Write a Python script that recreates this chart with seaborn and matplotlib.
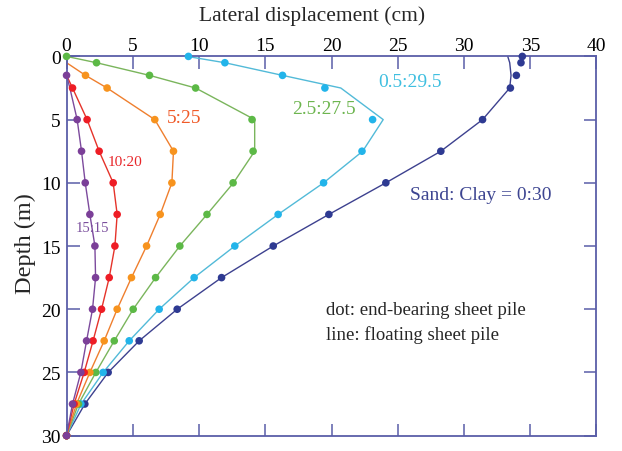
import numpy as np
import pandas as pd
import matplotlib
matplotlib.use("Agg")
import matplotlib.pyplot as plt
import seaborn as sns

nan = np.nan

# depth of the nodes (m)
depth = [0, 0.5, 1.5, 2.5, 5, 7.5, 10, 12.5, 15, 17.5, 20, 22.5, 25, 27.5, 30]

# dots: end-bearing sheet pile, lateral displacement (cm)
dot_0_30 = [34.4, 34.3, 33.95, 33.5, 31.4, 28.25, 24.1, 19.8, 15.6, 11.7, 8.35, 5.48, 3.14, 1.38, 0]
dot_05_295 = [9.2, 11.95, 16.3, 19.5, 23.1, 22.3, 19.4, 15.97, 12.7, 9.63, 6.99, 4.73, 2.76, 1.08, 0]
dot_25_275 = [0, 2.26, 6.26, 9.74, 14.0, 14.08, 12.57, 10.6, 8.55, 6.72, 5.03, 3.6, 2.21, 0.9, 0]
dot_5_25 = [nan, nan, 1.43, 3.06, 6.66, 8.07, 7.95, 7.07, 6.04, 4.9, 3.82, 2.84, 1.76, 0.75, 0]
dot_10_20 = [nan, nan, nan, 0.45, 1.55, 2.46, 3.52, 3.82, 3.65, 3.22, 2.64, 2.0, 1.33, 0.57, 0]
dot_15_15 = [nan, nan, 0, nan, 0.8, 1.13, 1.41, 1.76, 2.14, 2.19, 1.96, 1.51, 1.08, 0.45, 0]

# lines: floating sheet pile
line_0_30 = [33.3, 33.45, 33.55, 33.45, 31.4, 28.25, 24.1, 19.8, 15.6, 11.7, 8.35, 5.48, 3.14, 1.38, 0]
line_05_295 = [9.1, 11.95, 16.3, 20.7, 23.9, 22.35, 19.4, 15.97, 12.7, 9.63, 6.99, 4.73, 2.76, 1.1, 0]
line_25_275 = [0, 2.26, 6.26, 9.74, 14.2, 14.2, 12.6, 10.6, 8.55, 6.72, 5.03, 3.6, 2.21, 0.9, 0]
line_5_25 = [nan, 0, 1.43, 3.06, 6.66, 8.07, 7.95, 7.07, 6.04, 4.9, 3.82, 2.84, 1.76, 0.75, 0]
line_10_20 = [nan, nan, 0, 0.45, 1.55, 2.46, 3.52, 3.82, 3.65, 3.22, 2.64, 2.0, 1.33, 0.57, 0]
line_15_15 = [nan, nan, 0, 0.25, 0.8, 1.13, 1.41, 1.76, 2.14, 2.19, 1.96, 1.51, 1.08, 0.45, 0]

labels = ["Sand: Clay = 0:30", "0.5:29.5", "2.5:27.5", "5:25", "10:20", "15:15"]
dot_colors = ["#2e3a92", "#22b4ea", "#5cb946", "#f7931e", "#ee1d25", "#7b3f98"]
line_colors = ["#3d418f", "#52bad8", "#7ab55c", "#ef7f2e", "#e5332a", "#7c4a9d"]
text_colors = ["#3d4591", "#3fbfe0", "#6db54f", "#f05a28", "#e8262a", "#7b4f9d"]

dots = [dot_0_30, dot_05_295, dot_25_275, dot_5_25, dot_10_20, dot_15_15]
lines = [line_0_30, line_05_295, line_25_275, line_5_25, line_10_20, line_15_15]

sns.set_theme(style="white")
plt.rcParams['font.family'] = ['Liberation Serif', 'DejaVu Serif']
axis_col = "#5a5ea8"

fig = plt.figure(figsize=(6.22, 4.52), dpi=100)
ax = fig.add_axes([0.107, 0.034, 0.852, 0.839])

for i in range(len(labels)):
    df = pd.DataFrame({"x": lines[i], "depth": depth}).dropna()
    sns.lineplot(data=df, x="x", y="depth", sort=False, estimator=None,
                 color=line_colors[i], lw=1.0, ax=ax)
for i in range(len(labels)):
    df = pd.DataFrame({"x": dots[i], "depth": depth}).dropna()
    sns.scatterplot(data=df, x="x", y="depth", color=dot_colors[i], s=30,
                    edgecolor="none", ax=ax, clip_on=False, zorder=3)

ax.set_xlim(0, 40)
ax.set_ylim(30, 0)
ax.set_xticks(range(0, 41, 5))
ax.set_yticks(range(0, 31, 5))
ax.xaxis.tick_top()
ax.tick_params(axis="both", direction="in", length=9, width=1.1, color=axis_col,
               labelsize=14, labelcolor="black")
ax.tick_params(axis="x", top=True, bottom=True, pad=2)
ax.tick_params(axis="y", left=True, right=True, pad=4)
for sp in ax.spines.values():
    sp.set_color(axis_col)
    sp.set_linewidth(1.3)

ax.set_xlabel("Lateral displacement (cm)", fontsize=15.5)
ax.xaxis.set_label_position("top")
ax.xaxis.set_label_coords(0.463, 1.095)
ax.set_ylabel("Depth (m)", fontsize=17.5)
ax.yaxis.set_label_coords(-0.058, 0.51)

ax.text(31.3, 10.9, labels[0], color=text_colors[0], fontsize=14, ha="center", va="center")
ax.text(25.9, 1.95, labels[1], color=text_colors[1], fontsize=14, ha="center", va="center")
ax.text(19.4, 4.1, labels[2], color=text_colors[2], fontsize=14, ha="center", va="center")
ax.text(8.87, 4.82, labels[3], color=text_colors[3], fontsize=14, ha="center", va="center")
ax.text(4.42, 8.3, labels[4], color=text_colors[4], fontsize=11, ha="center", va="center")
ax.text(1.95, 13.5, labels[5], color=text_colors[5], fontsize=10.5, ha="center", va="center")

ax.text(19.6, 20.0, "dot: end-bearing sheet pile", fontsize=13.5, ha="left", va="center")
ax.text(19.6, 21.95, "line: floating sheet pile", fontsize=13.5, ha="left", va="center")

fig.savefig("out.png", dpi=100)
